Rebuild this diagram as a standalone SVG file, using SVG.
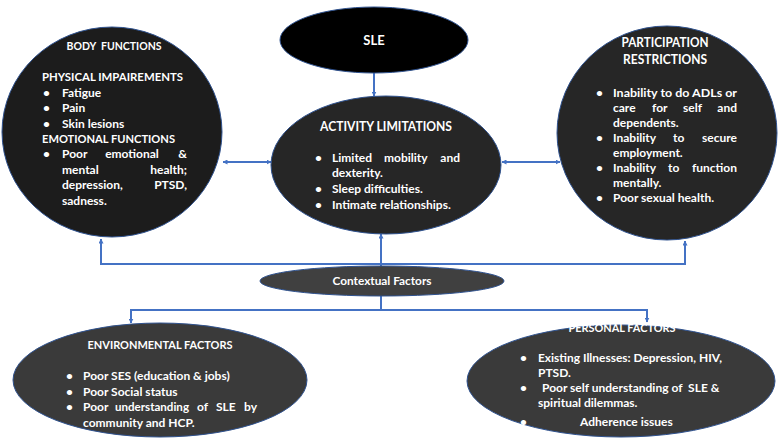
<svg xmlns="http://www.w3.org/2000/svg" width="778" height="439" viewBox="0 0 778 439">
<defs>
<marker id="ah" viewBox="0 0 10 10" refX="9" refY="5" markerWidth="5" markerHeight="5" orient="auto-start-reverse" markerUnits="userSpaceOnUse">
<path d="M0,0 L10,5 L0,10 z" fill="#4472c4"/>
</marker>
<style>
.n{stroke:#2f528f;stroke-width:1}
.t{font-family:Lato,"Open Sans","Liberation Sans",sans-serif;font-weight:bold;fill:#fff;font-size:12px}
.h{font-size:13px}
.c{text-anchor:middle}
.e{text-anchor:end}
.w{stroke:#4472c4;stroke-width:2;fill:none}
</style>
</defs>
<g id="connectors">
<path class="w" d="M374,72 V96" marker-end="url(#ah)"/>
<path class="w" d="M223,162 H271" marker-start="url(#ah)" marker-end="url(#ah)"/>
<path class="w" d="M502,162 H560" marker-start="url(#ah)" marker-end="url(#ah)"/>
<path class="w" d="M101,239 V264 H685 V241" marker-start="url(#ah)" marker-end="url(#ah)"/>
<path class="w" d="M381,267 V234" marker-end="url(#ah)"/>
<path class="w" d="M381,296 V310"/>
<path class="w" d="M131,323 V310 H647 V322" marker-start="url(#ah)" marker-end="url(#ah)"/>
</g>
<g id="sle">
<ellipse class="n" cx="374" cy="40" rx="94" ry="33" fill="#000"/>
<text class="t h c" x="374" y="45">SLE</text>
</g>
<g id="body-functions">
<ellipse class="n" cx="112" cy="132" rx="110" ry="105" fill="#1c1c1c"/>
<text class="t c" x="114" y="50" textLength="95" lengthAdjust="spacingAndGlyphs" xml:space="preserve">BODY  FUNCTIONS</text>
<text class="t" x="42" y="81" textLength="141" lengthAdjust="spacingAndGlyphs">PHYSICAL IMPAIREMENTS</text>
<text class="t" x="43" y="97">•</text><text class="t" x="62" y="97">Fatigue</text>
<text class="t" x="43" y="112">•</text><text class="t" x="62" y="112">Pain</text>
<text class="t" x="43" y="128">•</text><text class="t" x="62" y="128">Skin lesions</text>
<text class="t" x="42" y="143" textLength="133" lengthAdjust="spacingAndGlyphs">EMOTIONAL FUNCTIONS</text>
<text class="t" x="43" y="158">•</text><text class="t" x="62" y="158">Poor</text><text class="t c" x="132" y="158">emotional</text><text class="t e" x="187" y="158">&amp;</text>
<text class="t" x="62" y="174">mental</text><text class="t e" x="187" y="174">health;</text>
<text class="t" x="62" y="189">depression,</text><text class="t e" x="187" y="189">PTSD,</text>
<text class="t" x="62" y="205">sadness.</text>
</g>
<g id="activity-limitations">
<ellipse class="n" cx="386" cy="165" rx="115" ry="69" fill="#262626"/>
<text class="t h c" x="386" y="131" textLength="132" lengthAdjust="spacingAndGlyphs">ACTIVITY LIMITATIONS</text>
<text class="t" x="315" y="162">•</text><text class="t" x="332" y="162">Limited</text><text class="t" x="384" y="162">mobility</text><text class="t e" x="460" y="162">and</text>
<text class="t" x="332" y="177">dexterity.</text>
<text class="t" x="315" y="193">•</text><text class="t" x="332" y="193">Sleep difficulties.</text>
<text class="t" x="315" y="209">•</text><text class="t" x="332" y="209">Intimate relationships.</text>
</g>
<g id="participation-restrictions">
<ellipse class="n" cx="667" cy="133" rx="110" ry="107" fill="#262626"/>
<text class="t h c" x="665" y="47" textLength="87" lengthAdjust="spacingAndGlyphs">PARTICIPATION</text>
<text class="t h c" x="665" y="64" textLength="84" lengthAdjust="spacingAndGlyphs">RESTRICTIONS</text>
<text class="t" x="596" y="97">•</text><text class="t" x="613" y="97" textLength="124" lengthAdjust="spacingAndGlyphs">Inability to do ADLs or</text>
<text class="t" x="613" y="112">care</text><text class="t" x="652" y="112">for</text><text class="t" x="683" y="112">self</text><text class="t e" x="737" y="112">and</text>
<text class="t" x="613" y="127">dependents.</text>
<text class="t" x="596" y="142">•</text><text class="t" x="613" y="142">Inability</text><text class="t" x="673" y="142">to</text><text class="t e" x="737" y="142">secure</text>
<text class="t" x="613" y="157">employment.</text>
<text class="t" x="596" y="172">•</text><text class="t" x="613" y="172">Inability</text><text class="t" x="668" y="172">to</text><text class="t e" x="737" y="172">function</text>
<text class="t" x="613" y="187">mentally.</text>
<text class="t" x="596" y="202">•</text><text class="t" x="613" y="202">Poor sexual health.</text>
</g>
<g id="contextual-factors">
<ellipse class="n" cx="382" cy="281" rx="122" ry="15" fill="#404040"/>
<text class="t c" x="382" y="285" textLength="99" lengthAdjust="spacingAndGlyphs">Contextual Factors</text>
</g>
<g id="environmental-factors">
<ellipse class="n" cx="160" cy="380" rx="147" ry="57" fill="#3a3a3a"/>
<text class="t c" x="160" y="349" textLength="145" lengthAdjust="spacingAndGlyphs">ENVIRONMENTAL FACTORS</text>
<text class="t" x="66" y="380">•</text><text class="t" x="83" y="380">Poor SES (education &amp; jobs)</text>
<text class="t" x="66" y="396">•</text><text class="t" x="83" y="396">Poor Social status</text>
<text class="t" x="66" y="411">•</text><text class="t" x="83" y="411">Poor</text><text class="t" x="115" y="411" textLength="74" lengthAdjust="spacingAndGlyphs">understanding</text><text class="t" x="197" y="411">of</text><text class="t" x="216" y="411">SLE</text><text class="t e" x="257" y="411">by</text>
<text class="t" x="83" y="427">community and HCP.</text>
</g>
<g id="personal-factors">
<ellipse class="n" cx="621" cy="381" rx="154" ry="56" fill="#3a3a3a"/>
<text class="t c" x="622" y="332" textLength="107" lengthAdjust="spacingAndGlyphs">PERSONAL FACTORS</text>
<text class="t" x="520" y="362">•</text><text class="t" x="538" y="362" textLength="184" lengthAdjust="spacingAndGlyphs">Existing Illnesses: Depression, HIV,</text>
<text class="t" x="538" y="377">PTSD.</text>
<text class="t" x="520" y="392">•</text><text class="t" x="542" y="392" xml:space="preserve">Poor self understanding of  SLE &amp;</text>
<text class="t" x="538" y="407">spiritual dilemmas.</text>
<text class="t" x="520" y="426">•</text><text class="t" x="580" y="426">Adherence issues</text>
</g>
</svg>
